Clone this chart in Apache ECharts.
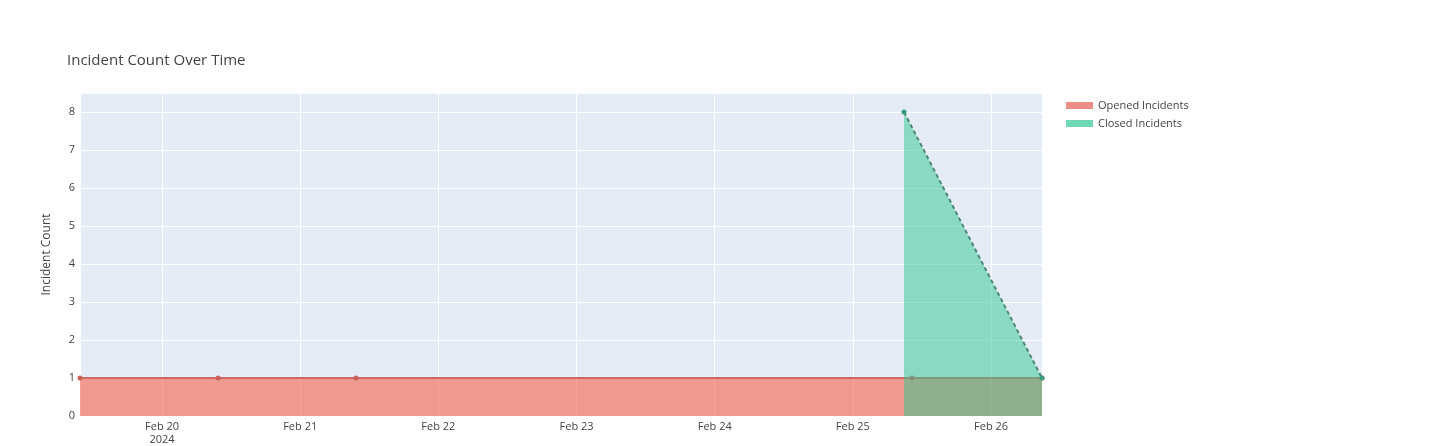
<!DOCTYPE html>
<html>
<head>
<meta charset="utf-8">
<script src="https://cdn.jsdelivr.net/npm/echarts@6/dist/echarts.min.js"></script>
<style>
html,body{margin:0;padding:0;background:#fff;}
#chart{width:1444px;height:446px;}
</style>
</head>
<body>
<div id="chart"></div>
<script>
const chartTitle = 'Incident Count Over Time';
const yAxisTitle = 'Incident Count';
const seriesNames = ['Opened Incidents', 'Closed Incidents'];
const openedDates = ['2024-02-19T09:45:00', '2024-02-20T09:44:00', '2024-02-21T09:42:00', '2024-02-25T10:16:00', '2024-02-26T08:51:00'];
const openedCounts = [1, 1, 1, 1, 1];
const closedDates = ['2024-02-25T08:53:00', '2024-02-26T08:51:00'];
const closedCounts = [8, 1];
const xRange = ['2024-02-19T09:45:00', '2024-02-26T08:51:00'];
const yTicks = [0, 1, 2, 3, 4, 5, 6, 7, 8];
const monthNames = ['Jan','Feb','Mar','Apr','May','Jun','Jul','Aug','Sep','Oct','Nov','Dec'];

const ts = s => new Date(s).getTime();
const openedData = openedDates.map((d, i) => [ts(d), openedCounts[i]]);
const closedData = closedDates.map((d, i) => [ts(d), closedCounts[i]]);

const chart = echarts.init(document.getElementById('chart'), null, {renderer: 'canvas'});
const option = {
  backgroundColor: '#fff',
  textStyle: {fontFamily: 'Open Sans'},
  title: {
    text: chartTitle,
    left: 67, top: 53, padding: 0,
    textStyle: {fontFamily: 'Open Sans', fontSize: 15, fontWeight: 'normal', color: '#444'}
  },
  legend: {
    orient: 'vertical',
    left: 1066, top: 100, padding: 0,
    itemGap: 7,
    itemWidth: 27, itemHeight: 7,
    icon: 'rect',
    textStyle: {fontFamily: 'Open Sans', fontSize: 11, color: '#444'},
    data: [
      {name: seriesNames[0], itemStyle: {color: '#ec8e86'}},
      {name: seriesNames[1], itemStyle: {color: '#6fd8b6'}}
    ]
  },
  grid: {
    left: 80, right: 402, top: 93, bottom: 27,
    show: true, backgroundColor: '#E5ECF6', borderWidth: 0,
    containLabel: false
  },
  xAxis: {
    type: 'time',
    min: ts(xRange[0]), max: ts(xRange[1]),
    minInterval: 86400000, maxInterval: 86400000,
    axisLine: {show: false},
    axisTick: {show: false},
    splitLine: {show: true, lineStyle: {color: '#fff', width: 1}},
    axisLabel: {
      showMinLabel: false, showMaxLabel: false,
      fontFamily: 'Open Sans', fontSize: 11, color: '#444', margin: 4, lineHeight: 13,
      formatter: function (value) {
        const d = new Date(value);
        if (d.getHours() !== 0 || d.getMinutes() !== 0) return '';
        let s = monthNames[d.getMonth()] + ' ' + d.getDate();
        if (d.getDate() === 20) { s += '\n' + d.getFullYear(); }
        return s;
      }
    }
  },
  yAxis: {
    type: 'value',
    min: 0, max: 8.5, interval: 1,
    name: yAxisTitle,
    nameLocation: 'middle', nameGap: 27,
    nameTextStyle: {fontFamily: 'Open Sans', fontSize: 12, color: '#444'},
    axisLine: {show: false},
    axisTick: {show: false},
    splitLine: {show: true, lineStyle: {color: '#fff', width: 1}},
    axisLabel: {
      fontFamily: 'Open Sans', fontSize: 11, color: '#444', margin: 5,
      formatter: v => (yTicks.indexOf(v) >= 0 ? String(v) : '')
    }
  },
  series: [
    {
      name: seriesNames[0],
      type: 'line',
      data: openedData,
      showSymbol: true, symbol: 'circle', symbolSize: 5,
      itemStyle: {color: '#c9605a'},
      lineStyle: {color: '#cf6a62', width: 2},
      areaStyle: {color: '#f7482a', opacity: 0.5, origin: 'start'},
      z: 2
    },
    {
      name: seriesNames[1],
      type: 'line',
      data: closedData,
      showSymbol: true, symbol: 'circle', symbolSize: 5,
      itemStyle: {color: '#3a9a7e'},
      lineStyle: {color: '#4b8877', width: 2, type: [4, 3]},
      areaStyle: {color: '#30c68e', opacity: 0.5, origin: 'start'},
      z: 3
    }
  ]
};
chart.setOption(option);
</script>
</body>
</html>
